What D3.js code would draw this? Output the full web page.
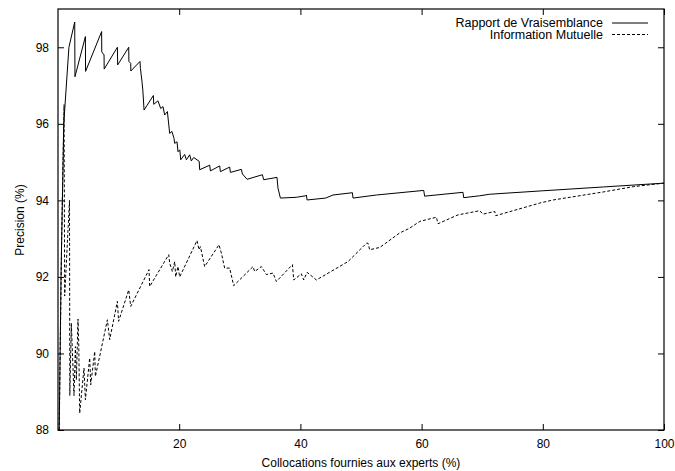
<!DOCTYPE html>
<html>
<head>
<meta charset="utf-8">
<script src="https://cdn.jsdelivr.net/npm/d3@7"></script>
<style>
  body { margin: 0; background: #fff; }
  text { font-family: "Liberation Sans", Arial, sans-serif; fill: #000; }
</style>
</head>
<body>
<div class="box"></div>
<script>
// DATA

const xTicks = [20, 40, 60, 80, 100];
const yTicks = [88, 90, 92, 94, 96, 98];

// Rapport de Vraisemblance (solid)
const rvX = [0.2, 0.5, 0.95, 1.8, 2.76, 2.8, 4.52, 4.55, 7.2, 7.22, 7.6, 7.62, 9.8, 9.85, 11.67, 11.7, 12.0, 12.02, 13.53, 13.6, 13.86, 14.0, 14.2,
  15.74, 15.8, 16.5, 16.95, 17.33, 17.6, 18.05, 18.43, 18.8, 19.14, 19.26, 19.64, 19.8, 20.1, 20.25, 20.9, 21.19, 21.73, 22.0, 22.39, 23.3, 23.38,
  25.03, 25.15, 26.68, 26.8, 28.33, 28.45, 30.26, 30.43, 31.2, 33.73, 33.94, 36.14, 36.3, 36.7, 39.33, 40.87, 40.99, 41.1, 44.17, 45.38, 48.58, 48.68,
  52.54, 60.35, 60.5, 66.83, 66.95, 69.59, 71.24, 80, 90, 100];
const rvY = [88.0, 92.0, 96.0, 98.0, 98.66, 97.23, 98.28, 97.37, 98.41, 97.88, 97.8, 97.43, 98.0, 97.54, 98.0, 97.63, 97.58, 97.38, 97.63, 97.45, 97.1, 96.88, 96.36,
  96.74, 96.51, 96.6, 96.4, 96.45, 96.23, 96.32, 95.75, 95.8, 95.62, 95.49, 95.53, 95.27, 95.32, 95.06, 95.2, 95.06, 95.19, 95.03, 95.12, 95.02, 94.8,
  94.92, 94.77, 94.9, 94.75, 94.87, 94.73, 94.81, 94.69, 94.55, 94.67, 94.54, 94.6, 94.32, 94.06, 94.08, 94.12, 94.14, 94.01, 94.06, 94.14, 94.2, 94.06,
  94.14, 94.26, 94.11, 94.21, 94.07, 94.12, 94.16, 94.25, 94.35, 94.45];

// Information Mutuelle (dashed)
const imX = [0.2, 0.6, 1.0, 1.1, 1.9, 1.95, 2.2, 2.64, 2.87, 3.03, 3.3, 3.42, 3.58, 4.29, 4.52, 5.23, 5.4, 6.06, 6.17, 8.15, 8.53, 9.8, 10.0, 11.67, 12.0,
  15.02, 15.13, 18.27, 18.43, 18.87, 19.26, 19.42, 19.8, 20.08, 22.94, 23.27, 23.5, 24.2, 26.57, 26.96, 27.5, 28.33, 28.99, 32.18, 32.46, 33.56, 34.39,
  35.48, 36.04, 38.68, 38.9, 40.16, 40.54, 41.1, 42.64, 47.85, 50.9, 51.16, 51.43, 53.1, 56.4, 58.0, 59.7, 62.44, 62.71, 66.0, 69.59, 70.13, 72.07, 72.23,
  79.5, 81.7, 90, 95, 100];
const imY = [88.0, 93.0, 96.5, 91.5, 94.0, 88.9, 90.79, 88.9, 90.18, 89.31, 90.9, 90.28, 88.44, 89.62, 88.79, 89.88, 89.18, 90.05, 89.4, 90.88, 90.36, 91.36, 90.84, 91.66, 91.23,
  92.19, 91.75, 92.58, 92.36, 92.14, 92.4, 92.0, 92.27, 92.0, 92.95, 92.71, 92.79, 92.27, 92.84, 92.62, 92.23, 92.23, 91.77, 92.27, 92.14, 92.27, 92.06,
  92.1, 91.88, 92.32, 91.92, 92.08, 91.92, 92.12, 91.92, 92.4, 92.88, 92.88, 92.71, 92.77, 93.15, 93.27, 93.45, 93.56, 93.39, 93.62, 93.73, 93.64, 93.71, 93.6,
  93.93, 94.01, 94.22, 94.36, 94.45];

const seriesNames = ['Rapport de Vraisemblance', 'Information Mutuelle'];

// SETUP

const width = 675, height = 471;
const margin = {top: 9, right: 11, bottom: 41, left: 58};
const graphWidth = width - margin.left - margin.right;
const graphHeight = height - margin.top - margin.bottom;

const svg = d3.select('.box')
              .append('svg')
              .attr('width', width)
              .attr('height', height)
              .style('background', '#fff');

const graph = svg.append('g')
                 .attr('transform', `translate(${margin.left}, ${margin.top})`);

const x = d3.scaleLinear().domain([0, 100]).range([0, graphWidth]);
const y = d3.scaleLinear().domain([88, 99]).range([graphHeight, 0]);

svg.append('defs').append('clipPath').attr('id', 'clip')
   .append('rect').attr('width', graphWidth).attr('height', graphHeight);

// axes: ticks point inward, mirrored on top and right
const tickLen = 6;
const axisStyle = g => {
  g.select('.domain').remove();
  g.selectAll('.tick line').attr('stroke', '#000');
  g.selectAll('.tick text').style('font-size', '12px');
};

graph.append('g')
     .attr('transform', `translate(0, ${graphHeight})`)
     .call(d3.axisBottom(x).tickValues(xTicks).tickSizeInner(-tickLen).tickPadding(9))
     .call(axisStyle);
graph.append('g')
     .call(d3.axisTop(x).tickValues(xTicks).tickSizeInner(-tickLen).tickFormat(''))
     .call(axisStyle);
graph.append('g')
     .call(d3.axisLeft(y).tickValues(yTicks).tickSizeInner(-tickLen).tickPadding(9))
     .call(axisStyle);
graph.append('g')
     .attr('transform', `translate(${graphWidth}, 0)`)
     .call(d3.axisRight(y).tickValues(yTicks).tickSizeInner(-tickLen).tickFormat(''))
     .call(axisStyle);

// lines
const line = d3.line().x(d => x(d[0])).y(d => y(d[1]));
const rvData = rvX.map((v, i) => [v, rvY[i]]);
const imData = imX.map((v, i) => [v, imY[i]]);

const plot = graph.append('g').attr('clip-path', 'url(#clip)');
plot.append('path').datum(imData)
    .attr('d', line).attr('fill', 'none').attr('stroke', '#000')
    .attr('stroke-width', 1).attr('stroke-dasharray', '3,2');
plot.append('path').datum(rvData)
    .attr('d', line).attr('fill', 'none').attr('stroke', '#000')
    .attr('stroke-width', 1);

// frame
graph.append('rect')
     .attr('width', graphWidth).attr('height', graphHeight)
     .attr('fill', 'none').attr('stroke', '#000').attr('stroke-width', 1.2);

// legend
const legend = graph.append('g');
seriesNames.forEach((name, i) => {
  const ly = 14 + i * 11.5;
  legend.append('text')
        .attr('x', 545).attr('y', ly + 4)
        .attr('text-anchor', 'end')
        .style('font-size', '12.5px')
        .text(name);
  legend.append('line')
        .attr('x1', 554).attr('x2', 590).attr('y1', ly).attr('y2', ly)
        .attr('stroke', '#000').attr('stroke-width', 1)
        .attr('stroke-dasharray', i === 1 ? '3,2' : null);
});

// axis titles
svg.append('text')
   .attr('x', margin.left + graphWidth / 2).attr('y', 467)
   .attr('text-anchor', 'middle').style('font-size', '12px')
   .text('Collocations fournies aux experts (%)');
svg.append('text')
   .attr('transform', 'translate(24, 220) rotate(-90)')
   .attr('text-anchor', 'middle').style('font-size', '12px')
   .text('Precision (%)');
</script>
</body>
</html>
